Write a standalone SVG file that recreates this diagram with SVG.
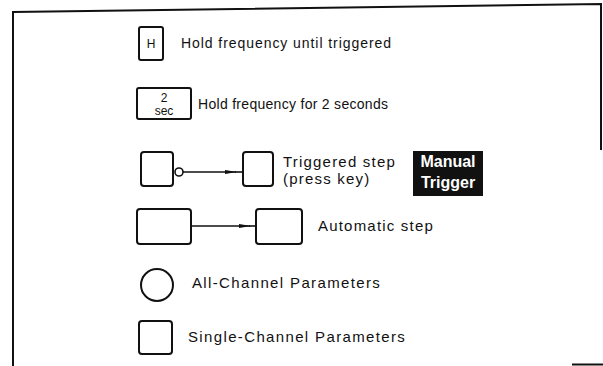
<svg xmlns="http://www.w3.org/2000/svg" width="603" height="366" viewBox="0 0 603 366">
<style>
.frame{fill:none;stroke:#111;stroke-width:2}
.box{fill:#fff;stroke:#111;stroke-width:2}
.lbl{font-family:"Liberation Sans",Arial,sans-serif;font-size:15px;fill:#111;letter-spacing:1.2px}
.lbl2{font-family:"Liberation Sans",Arial,sans-serif;font-size:14px;fill:#111}
.in{font-family:"Liberation Sans",Arial,sans-serif;font-size:12px;fill:#111;text-anchor:middle}
.con{stroke:#111;stroke-width:1.6;fill:none}
.mt{font-family:"Liberation Sans",Arial,sans-serif;font-size:16px;font-weight:bold;fill:#fff;text-anchor:middle}
</style>
<defs>
<marker id="ah" markerWidth="12" markerHeight="6" refX="11" refY="3" orient="auto" markerUnits="userSpaceOnUse">
<path d="M0,1 L12,3 L0,5 Z" fill="#111"/>
</marker>
</defs>
<g id="frame">
<path class="frame" d="M13,366 L13,12 L601,4 L601,150"/>
<path class="frame" d="M572,364.5 L603,364.5" stroke-width="1.5"/>
</g>
<g id="hold-until">
<rect class="box" x="139" y="27" width="24" height="33" rx="2"/>
<text class="in" x="151" y="48" font-size="13">H</text>
<text class="lbl2" x="181" y="48" textLength="210" lengthAdjust="spacing">Hold frequency until triggered</text>
</g>
<g id="hold-2sec">
<rect class="box" x="137" y="88" width="54" height="31" rx="2"/>
<text class="in" x="164" y="102">2</text>
<text class="in" x="164" y="115">sec</text>
<text class="lbl2" x="198" y="109" textLength="190" lengthAdjust="spacing">Hold frequency for 2 seconds</text>
</g>
<g id="triggered-from">
<rect class="box" x="141" y="152" width="32" height="34" rx="3"/>
</g>
<g id="triggered-to">
<rect class="box" x="243" y="152" width="30" height="34" rx="3"/>
<text class="lbl" x="283" y="167">Triggered step</text>
<text class="lbl" x="283" y="184">(press key)</text>
</g>
<g id="manual-trigger">
<rect x="413" y="151" width="70" height="45" fill="#111"/>
<text class="mt" x="448" y="167">Manual</text>
<text class="mt" x="448" y="188">Trigger</text>
</g>
<g id="auto-from">
<rect class="box" x="137" y="209" width="54" height="35" rx="3"/>
</g>
<g id="auto-to">
<rect class="box" x="256" y="209" width="46" height="35" rx="3"/>
<text class="lbl" x="318" y="231">Automatic step</text>
</g>
<g id="all-channel">
<circle class="box" cx="157" cy="285" r="16"/>
<text class="lbl" x="192" y="288" textLength="189" lengthAdjust="spacing">All-Channel Parameters</text>
</g>
<g id="single-channel">
<rect class="box" x="139" y="321" width="33" height="33" rx="3"/>
<text class="lbl" x="188" y="342" textLength="218" lengthAdjust="spacing">Single-Channel Parameters</text>
</g>
<g id="connectors">
<circle cx="179" cy="172" r="4" fill="#fff" stroke="#111" stroke-width="1.6"/>
<line class="con" x1="183" y1="172" x2="236" y2="172" marker-end="url(#ah)"/>
<line class="con" x1="235" y1="172" x2="243" y2="172"/>
<line class="con" x1="191" y1="226" x2="250" y2="226" marker-end="url(#ah)"/>
<line class="con" x1="249" y1="226" x2="256" y2="226"/>
</g>
</svg>
